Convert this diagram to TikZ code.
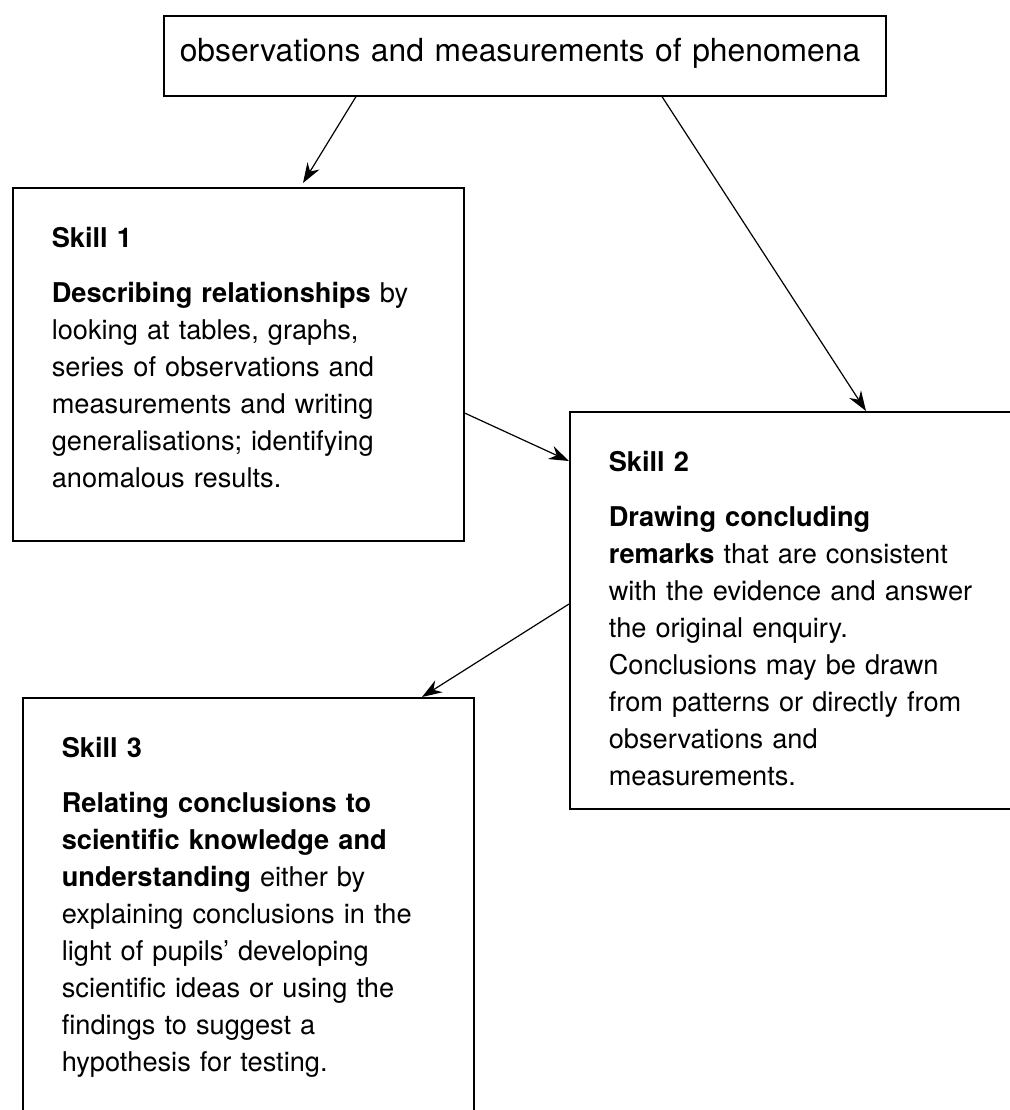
\documentclass[tikz,border=0pt]{standalone}
\usepackage{fontspec}
\setmainfont{TeX Gyre Heros}
\usetikzlibrary{arrows.meta, positioning, calc}

\tikzset{
    skillbox/.style={draw, line width=0.8pt, anchor=north west, align=left,
        inner xsep=19.5pt, inner ysep=10pt, text height=20pt,
        font=\fontsize{13.6}{18.5}\selectfont},
    flow/.style={-{Stealth[length=10pt, width=7pt]}, line width=0.6pt}
}

\begin{document}
\begin{tikzpicture}[x=0.5pt, y=-0.5pt]
    \useasboundingbox (0,0) rectangle (1010,1110);
    \node[draw, line width=0.8pt, anchor=north west, align=left, text width=345pt,
        inner xsep=8pt, inner ysep=5pt, text height=18pt, text depth=12pt,
        font=\fontsize{15.9}{19}\selectfont] (obs) at (163,15)
        {observations and measurements of phenomena};
    \node[skillbox, text width=186.5pt, text depth=136.5pt] (skillA) at (12,187)
        {\textbf{Skill 1}\\[9pt]
        \textbf{Describing relationships} by\\
        looking at tables, graphs,\\
        series of observations and\\
        measurements and writing\\
        generalisations; identifying\\
        anomalous results.};
    \node[skillbox, text width=196.5pt, text depth=158.5pt] (skillB) at (569,411)
        {\textbf{Skill 2}\\[9pt]
        \textbf{Drawing concluding}\\
        \textbf{remarks} that are consistent\\
        with the evidence and answer\\
        the original enquiry.\\
        Conclusions may be drawn\\
        from patterns or directly from\\
        observations and\\
        measurements.};
    \node[skillbox, text width=186.5pt, text depth=220pt] (skillC) at (22,697)
        {\textbf{Skill 3}\\[9pt]
        \textbf{Relating conclusions to}\\
        \textbf{scientific knowledge and}\\
        \textbf{understanding} either by\\
        explaining conclusions in the\\
        light of pupils’ developing\\
        scientific ideas or using the\\
        findings to suggest a\\
        hypothesis for testing.};
    \draw[flow] ([xshift=96.5pt]obs.south west) -- ([xshift=145.5pt, yshift=2pt]skillA.north west);
    \draw[flow] ([xshift=249.5pt]obs.south west) -- ([xshift=148.5pt]skillB.north west);
    \draw[flow] ([yshift=-113pt]skillA.north east) -- ([yshift=-25pt]skillB.north west);
    \draw[flow] ([yshift=-96.5pt]skillB.north west) -- ([xshift=200pt]skillC.north west);
\end{tikzpicture}
\end{document}
